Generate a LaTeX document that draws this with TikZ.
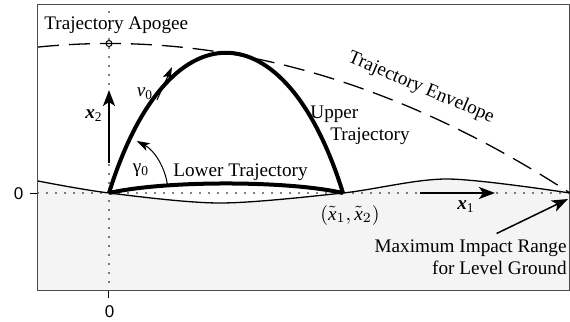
\documentclass[tikz,border=0pt]{standalone}
\usepackage{fontspec}
\setmainfont{Liberation Serif}
\setsansfont{Liberation Sans}
\usetikzlibrary{arrows.meta}

\begin{document}
\begin{tikzpicture}[
  x=0.5pt,y=-0.5pt,
  >=Stealth,
  every node/.style={font=\fontsize{9.6}{11}\selectfont,inner sep=0pt},
  traj/.style={line width=2pt},
  envelope/.style={line width=0.65pt,dash pattern=on 10.5pt off 5pt},
  dotline/.style={line width=0.9pt,line cap=round,dash pattern=on 0pt off 4.5pt},
  ground/.style={line width=0.65pt},
  vec/.style={-{Stealth[length=8pt,width=6pt,inset=2pt]},line width=1pt},
  slimvec/.style={-{Stealth[length=6.5pt,width=4.2pt,inset=1.6pt]},line width=0.5pt},
  tick/.style={font=\sffamily\fontsize{8.5}{10}\selectfont}
]
  \useasboundingbox (0,0) rectangle (570,322);
  \coordinate (O) at (109,193);
  \coordinate (impact) at (343,193);

  % ground
  \fill[gray!9] plot[smooth] coordinates {(38,181) (109,193) (220,203) (343,193) (447,179) (570,193)}
    -- (569.5,290) -- (38,290) -- cycle;
  \draw[ground] plot[smooth] coordinates {(38,181) (109,193) (220,203) (343,193) (447,179) (570,193)};

  % axes and frame
  \draw[dotline] (109,12) -- (109,290);
  \draw[dotline] (38,193) -- (570,193);
  \draw[line width=0.5pt] (30,193) -- (38,193);
  \draw[line width=0.5pt] (109,290) -- (109,298);
  \draw[line width=0.5pt,black!70] (38,4) rectangle (569.5,290);
  \node[tick] (zeroy) at (18.5,194) {0};
  \node[tick] (zerox) at (109.5,311.5) {0};

  \draw[envelope] plot[domain=38:570,samples=80] (\x,{43.5+149.5*((\x-109)/461)^2});
  \node[draw,circle,line width=0.5pt,minimum size=3pt] (apogee) at (109,43.5) {};
  \node[anchor=base west] (apolbl) at (44,29) {Trajectory Apogee};
  \node[rotate=-23] (envlbl) at (421,88) {Trajectory Envelope};

  \draw[traj] (O) .. controls (167,6) and (285,6) .. (impact);
  \draw[traj] (O) .. controls (165,180.3) and (287,180.3) .. (impact);
  \node[anchor=base west] (upperlbl) at (310,118) {Upper};
  \node[anchor=base west] (upperlbl2) at (330,140) {Trajectory};
  \node[anchor=base west] (lowerlbl) at (173,176.5) {Lower Trajectory};

  % launch vectors
  \coordinate (v0a) at (157,100);
  \coordinate (v0b) at (172,67);
  \draw[slimvec] (v0a) -- (v0b);
  \node (v0lbl) at (145,94) {\textit{v}\textsubscript{0}};
  \draw[slimvec] ([shift={(O)}]6:29.5pt) arc[start angle=6,end angle=62,radius=29.5pt];
  \node (gamlbl) at (141,170) {γ\textsubscript{0}};

  \coordinate (x2a) at (109,163);
  \coordinate (x2b) at (109,90);
  \draw[vec] (x2a) -- (x2b);
  \node (x2lbl) at (94,116) {\textbf{\textit{x}}\textsubscript{2}};
  \coordinate (x1a) at (420,193);
  \coordinate (x1b) at (495,193);
  \draw[vec] (x1a) -- (x1b);
  \node (x1lbl) at (466,207) {\textbf{\textit{x}}\textsubscript{1}};

  \node (implbl) at (350,215) {$(\tilde{\mathit{x}}_1,\tilde{\mathit{x}}_2)$};
  \node[align=right,anchor=north east] (rangelbl) at (567,239.5) {Maximum Impact Range\\for Level Ground};
  \coordinate (rangetip) at (568,199);
  \draw[vec,line width=0.75pt] ([xshift=13pt,yshift=3pt]rangelbl.north) -- (rangetip);
\end{tikzpicture}
\end{document}
